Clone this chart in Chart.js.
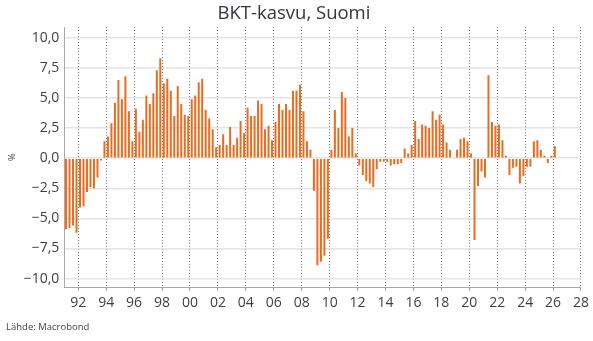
<!DOCTYPE html>
<html>
<head>
<meta charset="utf-8">
<script src="https://cdn.jsdelivr.net/npm/chart.js@4.4.1/dist/chart.umd.min.js"></script>
<style>
  html, body { margin: 0; padding: 0; background: #fff; }
  #wrap { width: 593px; height: 341px; }
</style>
</head>
<body>
<div id="wrap"><canvas id="chart"></canvas></div>
<script>
// BKT-kasvu (y/y %), neljännesvuosittain 1991Q1 - 2026Q1
const startYear = 1991;
const growth = [
  -5.9, -5.8, -5.6, -6.2,   // 1991
  -4.1, -4.0, -2.8, -2.4,   // 1992
  -2.5, -1.6, -0.2, 1.4,    // 1993
  1.8, 2.9, 4.6, 6.5,       // 1994
  4.9, 6.8, 3.9, 1.4,       // 1995
  4.1, 2.2, 3.2, 5.2,       // 1996
  4.5, 5.4, 7.3, 8.3,       // 1997
  6.2, 6.6, 5.6, 3.5,       // 1998
  6.0, 4.5, 3.6, 3.5,       // 1999
  4.9, 5.2, 6.3, 6.6,       // 2000
  4.0, 3.3, 2.4, 0.9,       // 2001
  1.1, 2.0, 1.1, 2.6,       // 2002
  1.1, 1.7, 3.1, 2.1,       // 2003
  4.2, 3.5, 3.5, 4.8,       // 2004
  4.5, 2.4, 2.7, 1.5,       // 2005
  3.0, 4.5, 4.0, 4.5,       // 2006
  4.0, 5.6, 5.6, 6.1,       // 2007
  3.9, 1.4, 0.7, -2.7,      // 2008
  -8.9, -8.6, -8.1, -6.7,   // 2009
  0.7, 4.0, 2.5, 5.5,       // 2010
  5.0, 1.8, 2.5, 0.4,       // 2011
  -0.6, -1.4, -1.9, -2.1,   // 2012
  -2.4, -0.9, -0.3, -0.3,   // 2013
  -0.3, -0.6, -0.5, -0.5,   // 2014
  -0.4, 0.8, 0.4, 1.1,      // 2015
  3.1, 1.6, 2.8, 2.7,       // 2016
  2.5, 3.9, 3.2, 3.6,       // 2017
  2.8, 1.3, 0.7, 0.0,       // 2018
  0.7, 1.6, 1.7, 1.4,       // 2019
  0.4, -6.8, -2.3, -1.1,    // 2020
  -1.6, 6.9, 3.0, 2.7,      // 2021
  2.8, 1.5, 0.2, -1.4,      // 2022
  -0.8, -0.7, -2.1, -1.5,   // 2023
  -0.7, -0.7, 1.4, 1.5,     // 2024
  0.7, 0.2, -0.4, 0.2,      // 2025
  1.0                       // 2026
];
const xTicks = [1992, 1994, 1996, 1998, 2000, 2002, 2004, 2006, 2008, 2010,
                2012, 2014, 2016, 2018, 2020, 2022, 2024, 2026, 2028];
const yTicks = [-10, -7.5, -5, -2.5, 0, 2.5, 5, 7.5, 10];

const points = growth.map((v, i) => ({ x: startYear + i / 4 + 0.125, y: v }));

const textColor = '#3b3f47';
const font = 'Open Sans';

new Chart(document.getElementById('chart'), {
  type: 'bar',
  data: {
    datasets: [{
      label: 'BKT-kasvu',
      data: points,
      backgroundColor: '#e96d1f',
      borderWidth: 0,
      barPercentage: 0.72,
      categoryPercentage: 0.8,
    }],
  },
  options: {
    responsive: true,
    maintainAspectRatio: false,
    animation: false,
    layout: { padding: { left: 6, right: 11, top: 0, bottom: 8 } },
    plugins: {
      legend: { display: false },
      tooltip: { enabled: false },
      title: {
        display: true,
        text: 'BKT-kasvu, Suomi',
        color: '#33363c',
        font: { family: font, size: 18.5, weight: 'normal' },
        padding: { top: 2.5, bottom: 2.3 },
      },
      subtitle: {
        display: true,
        text: 'Lähde: Macrobond',
        position: 'bottom',
        align: 'start',
        color: textColor,
        font: { family: font, size: 9.5 },
        padding: 0,
      },
    },
    scales: {
      x: {
        type: 'linear',
        min: 1991,
        max: 2028,
        offset: false,
        afterBuildTicks: (scale) => { scale.ticks = xTicks.map(v => ({ value: v })); },
        afterFit: (scale) => { scale.height = 34.6; },
        grid: {
          offset: false,
          color: '#7a7a7a',
          tickBorderDash: [],
          tickColor: '#a0a0a0',
          tickLength: 4,
        },
        border: { display: true, color: '#a8a8a8', width: 1, dash: [1, 2] },
        ticks: {
          color: textColor,
          font: { family: font, size: 14 },
          padding: 4,
          maxRotation: 0,
          autoSkip: false,
          callback: (v) => String(v % 100).padStart(2, '0'),
        },
      },
      y: {
        min: -10.7,
        max: 10.9,
        afterBuildTicks: (scale) => { scale.ticks = yTicks.map(v => ({ value: v })); },
        afterFit: (scale) => { scale.width = 58.3; },
        grid: { color: '#e4e4e4', lineWidth: 1.5, drawTicks: false },
        border: { display: true, color: '#a8a8a8', width: 1 },
        title: {
          display: true,
          text: '%',
          color: textColor,
          font: { family: font, size: 9.5 },
          padding: { top: 1, bottom: 0 },
        },
        ticks: {
          color: textColor,
          font: { family: font, size: 14 },
          padding: 5,
          callback: (v) => v.toFixed(1).replace('.', ',').replace('-', '\u2212'),
        },
      },
    },
  },
});
</script>
</body>
</html>
